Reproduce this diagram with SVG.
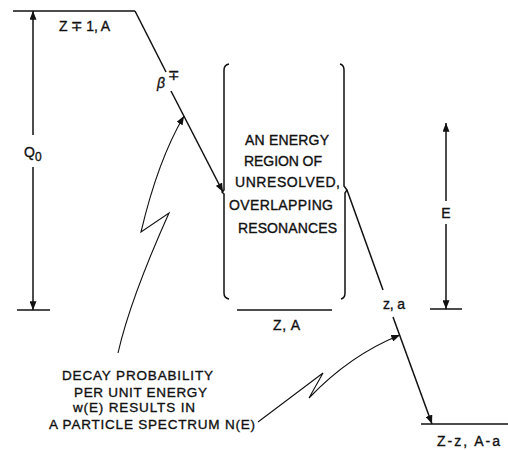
<svg xmlns="http://www.w3.org/2000/svg" width="508" height="450" viewBox="0 0 508 450">
<style>
.ln{stroke:#111;stroke-width:1.5;fill:none}
.th{stroke:#111;stroke-width:1.1;fill:none}
.t{font-family:"Liberation Sans","DejaVu Sans",sans-serif;font-size:14px;fill:#111;stroke:#111;stroke-width:0.35}
.s{font-family:"Liberation Sans","DejaVu Sans",sans-serif;font-size:13.5px;fill:#111;stroke:#111;stroke-width:0.35}
</style>
<defs>
<marker id="ah" viewBox="0 0 10 8" refX="10" refY="4" markerWidth="9" markerHeight="7" markerUnits="userSpaceOnUse" orient="auto">
<path d="M0,0 L10,4 L0,8 Z" fill="#111"/>
</marker>
</defs>
<rect width="508" height="450" fill="#fff"/>

<g id="level-parent">
<line class="ln" x1="13" y1="11" x2="135" y2="11"/>
<text class="t" x="59" y="31" textLength="51" lengthAdjust="spacing">Z ∓ 1, A</text>
</g>

<g id="level-ground">
<line class="ln" x1="17" y1="310" x2="50" y2="310"/>
</g>

<g id="q0">
<text class="t" x="24" y="157">Q<tspan font-size="12" dy="4">0</tspan></text>
</g>

<g id="region">
<path class="ln" d="M229,64 Q224,65 224,70 L224,190 L222,192 L224,194 L224,293 Q224,298 229,299"/>
<path class="ln" d="M340,64 Q344,65 344,70 L344,186 L347,190 L345,193 L345,293 Q345,298 341,299"/>
<text class="t" x="245" y="145" textLength="84" lengthAdjust="spacing">AN ENERGY</text>
<text class="t" x="244" y="166" textLength="78" lengthAdjust="spacing">REGION OF</text>
<text class="t" x="235" y="187" textLength="105" lengthAdjust="spacing">UNRESOLVED,</text>
<text class="t" x="229" y="210" textLength="104" lengthAdjust="spacing">OVERLAPPING</text>
<text class="t" x="238" y="233" textLength="99" lengthAdjust="spacing">RESONANCES</text>
</g>

<g id="level-za">
<line class="ln" x1="237" y1="310" x2="332" y2="310"/>
<text class="t" x="273" y="330" textLength="27" lengthAdjust="spacing">Z, A</text>
</g>

<g id="e-level">
<line class="ln" x1="430" y1="309" x2="462" y2="309"/>
<text class="t" x="446" y="218" text-anchor="middle">E</text>
</g>

<g id="level-final">
<line class="ln" x1="421" y1="424" x2="508" y2="424"/>
<text class="t" x="437" y="446" textLength="63" lengthAdjust="spacing">Z-z, A-a</text>
</g>

<g id="beta-label">
<text class="t" x="157" y="88" font-style="italic" font-size="15">β</text>
<text class="t" x="168" y="80" font-size="10">∓</text>
</g>

<g id="za-label">
<text class="t" x="383" y="309" textLength="22" lengthAdjust="spacing">z, a</text>
</g>

<g id="note">
<text class="s" x="62" y="380" textLength="151" lengthAdjust="spacing">DECAY PROBABILITY</text>
<text class="s" x="74" y="397" textLength="133" lengthAdjust="spacing">PER UNIT ENERGY</text>
<text class="s" x="73" y="412" textLength="122" lengthAdjust="spacing">w(E) RESULTS IN</text>
<text class="s" x="49" y="429" textLength="206" lengthAdjust="spacing">A PARTICLE SPECTRUM N(E)</text>
</g>

<g id="connectors">
<line class="ln" x1="33" y1="135" x2="33" y2="11" marker-end="url(#ah)"/>
<line class="ln" x1="33" y1="167" x2="33" y2="310" marker-end="url(#ah)"/>
<line class="ln" x1="446" y1="201" x2="446" y2="123" marker-end="url(#ah)"/>
<line class="ln" x1="446" y1="224" x2="446" y2="309" marker-end="url(#ah)"/>
<line class="ln" x1="135" y1="11" x2="166" y2="72"/>
<line class="ln" x1="171" y1="91" x2="223" y2="192" marker-end="url(#ah)"/>
<line class="ln" x1="347" y1="190" x2="383" y2="290"/>
<line class="ln" x1="393" y1="317" x2="432" y2="424" marker-end="url(#ah)"/>
<path class="th" d="M118,353 Q130,300 169,213 L141,232 Q158,160 184,116" marker-end="url(#ah)"/>
<path class="th" d="M258,422 L323,373 L309,398 Q350,355 400,335" marker-end="url(#ah)"/>
</g>
</svg>
